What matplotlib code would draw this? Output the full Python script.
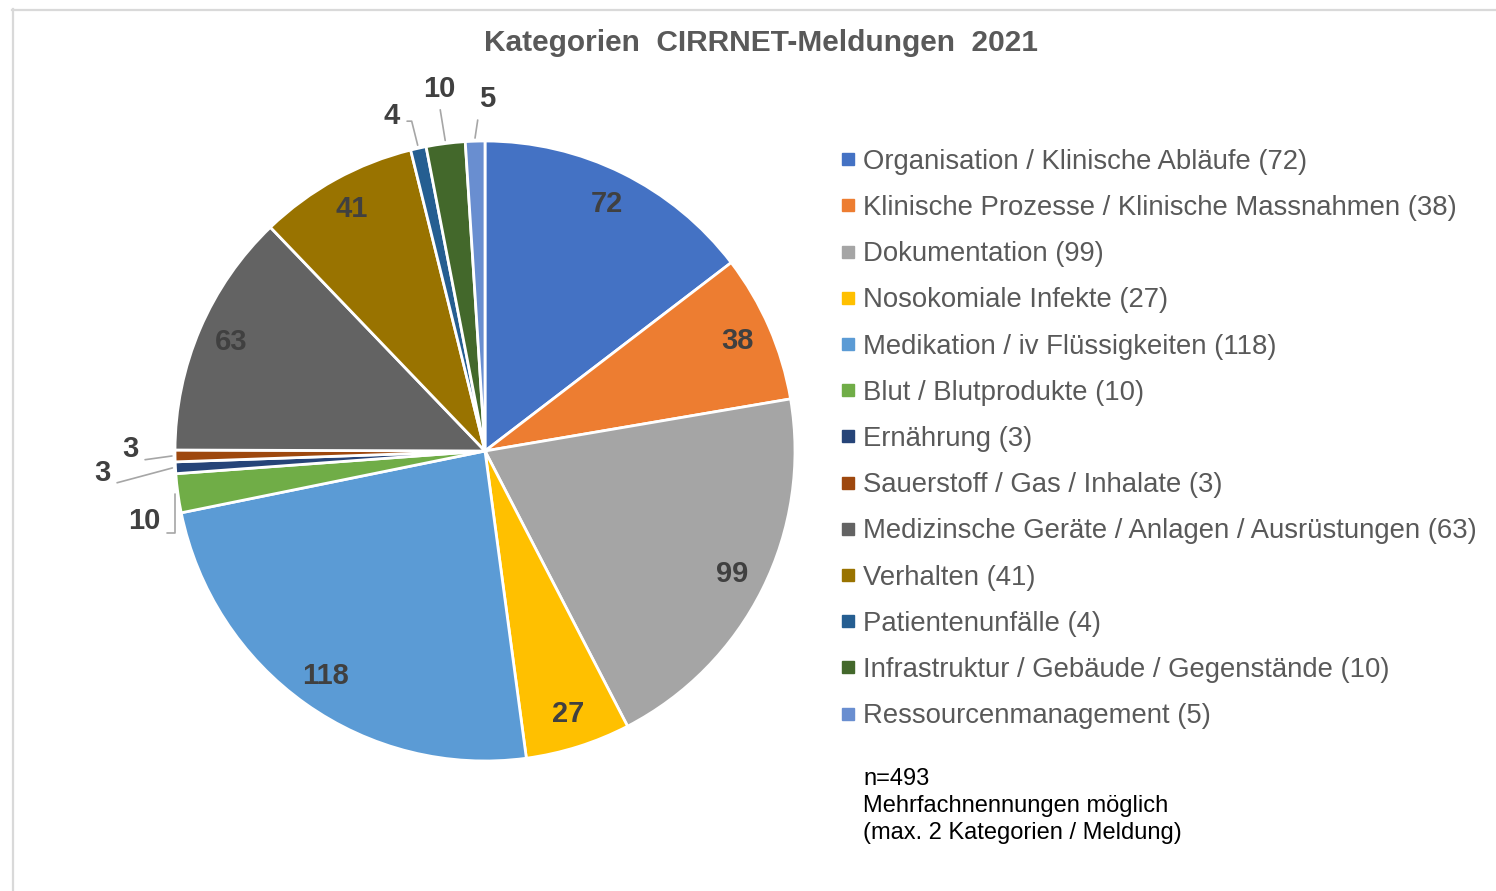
import matplotlib.pyplot as plt
from matplotlib.lines import Line2D
import numpy as np

plt.rcParams['font.family'] = ['Liberation Sans', 'DejaVu Sans']

# Data
categories = [
    "Organisation / Klinische Abläufe",
    "Klinische Prozesse / Klinische Massnahmen",
    "Dokumentation",
    "Nosokomiale Infekte",
    "Medikation / iv Flüssigkeiten",
    "Blut / Blutprodukte",
    "Ernährung",
    "Sauerstoff / Gas / Inhalate",
    "Medizinsche Geräte / Anlagen / Ausrüstungen",
    "Verhalten",
    "Patientenunfälle",
    "Infrastruktur / Gebäude / Gegenstände",
    "Ressourcenmanagement",
]
counts = [72, 38, 99, 27, 118, 10, 3, 3, 63, 41, 4, 10, 5]
colors = ["#4472C4", "#ED7D31", "#A5A5A5", "#FFC000", "#5B9BD5", "#70AD47",
          "#264478", "#9E480E", "#636363", "#997300", "#255E91", "#43682B",
          "#698ED0"]

# small slices get outside labels with leader lines:
# index -> (text position in axes units, leader style, relpos on text)
outside = {
    5: ((-1.10, -0.225), "angle,angleA=0,angleB=90,rad=0", (1.0, 0.05)),
    6: ((-1.235, -0.07), "angle,angleA=0,angleB=15,rad=0", (1.0, 0.05)),
    7: ((-1.145, 0.005), "arc3", (1.0, 0.1)),
    10: ((-0.30, 1.082), "angle,angleA=0,angleB=104,rad=0", (1.0, 0.3)),
    11: ((-0.148, 1.168), "arc3", (0.5, 0.0)),
    12: ((0.006, 1.135), "arc3", (0.0, 0.0)),
}

W, H = 1496, 891
fig = plt.figure(figsize=(W / 100, H / 100), dpi=100)

# chart border
fig.add_artist(Line2D([12 / W, 1], [1 - 9.5 / H] * 2, color="#D9D9D9", lw=1.6))
fig.add_artist(Line2D([12.5 / W] * 2, [0, 1 - 9 / H], color="#D9D9D9", lw=1.6))

cx, cy, r = 485, 451, 310
ax = fig.add_axes([(cx - r) / W, (H - cy - r) / H, 2 * r / W, 2 * r / H])
wedges, _ = ax.pie(counts, colors=colors, startangle=90, counterclock=False,
                   radius=1, wedgeprops=dict(edgecolor="white", linewidth=2))
ax.set_xlim(-1, 1)
ax.set_ylim(-1, 1)
ax.axis("off")

for i, (w, val) in enumerate(zip(wedges, counts)):
    ang = np.deg2rad((w.theta1 + w.theta2) / 2)
    if i in outside:
        (tx, ty), cstyle, rel = outside[i]
        ax.annotate(str(val), xy=(1.01 * np.cos(ang), 1.01 * np.sin(ang)),
                    xytext=(tx, ty), ha="center", va="center", fontsize=21,
                    fontweight="bold", color="#404040", annotation_clip=False,
                    arrowprops=dict(arrowstyle="-", color="#A6A6A6", lw=1.2,
                                    shrinkA=3, shrinkB=0,
                                    connectionstyle=cstyle, relpos=rel))
    else:
        ax.text(0.89 * np.cos(ang), 0.89 * np.sin(ang), str(val),
                ha="center", va="center", fontsize=21, fontweight="bold",
                color="#404040")

fig.text(761 / W, 1 - 43 / H, "Kategorien  CIRRNET-Meldungen  2021",
         ha="center", va="center", fontsize=21.5, fontweight="bold",
         color="#595959")

handles = [Line2D([], [], marker="s", linestyle="none", markersize=8,
                  markerfacecolor=c, markeredgecolor=c) for c in colors]
labels = [f"{c} ({v})" for c, v in zip(categories, counts)]
fig.legend(handles, labels, loc="upper left",
           bbox_to_anchor=(826 / W, 1 - 135 / H), frameon=False,
           fontsize=19.8, labelspacing=0.735, handlelength=0.6,
           handletextpad=0.25, labelcolor="#595959", borderpad=0)

fig.text(863 / W, 1 - 768 / H,
         "n=493\nMehrfachnennungen möglich\n(max. 2 Kategorien / Meldung)",
         ha="left", va="top", fontsize=17, color="black", linespacing=1.30)

fig.savefig("out.png", dpi=100, facecolor="white")
